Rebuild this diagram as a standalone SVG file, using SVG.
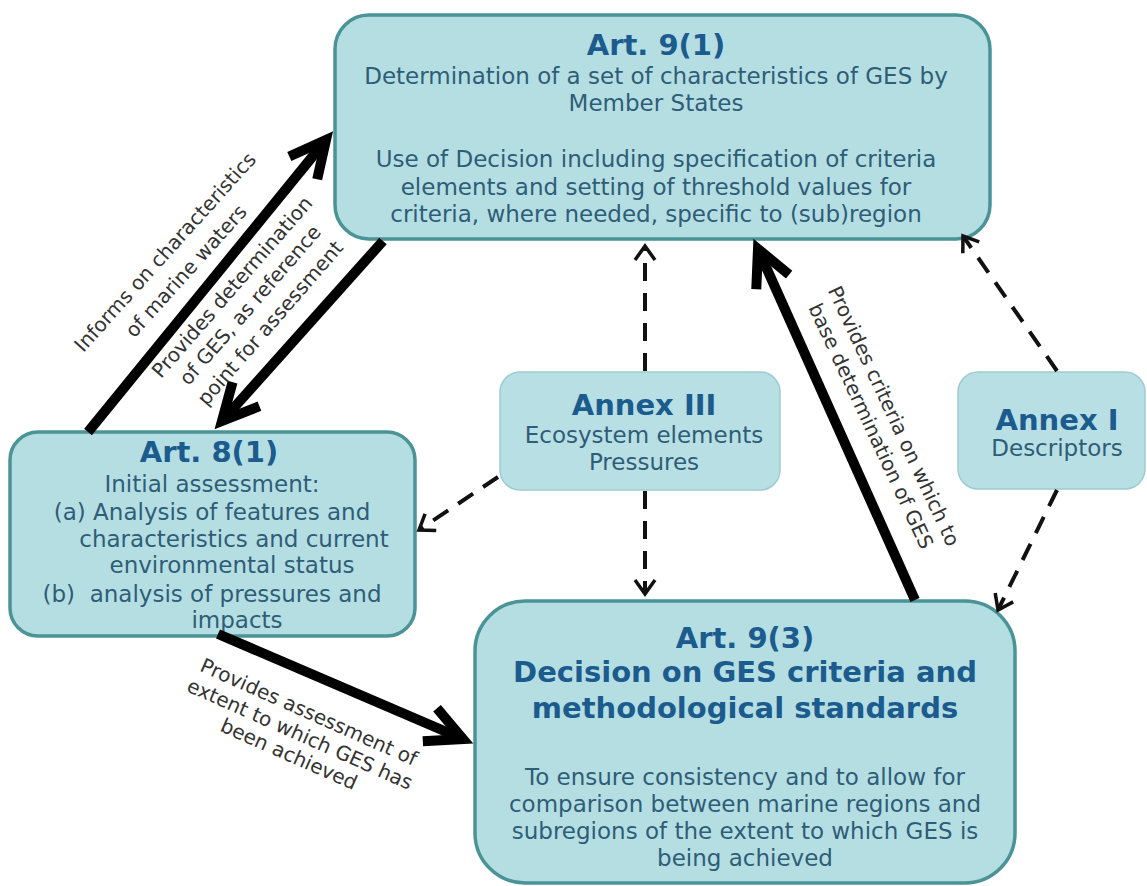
<svg xmlns="http://www.w3.org/2000/svg" width="1147" height="886" viewBox="0 0 1147 886">
<style>
.box{fill:#b5dee2;stroke:#4a9396;stroke-width:3.5}
.annex{fill:#b8dfe3;stroke:#9fcbd0;stroke-width:1.5}
.title{font-family:"DejaVu Sans",Verdana,sans-serif;font-weight:bold;fill:#1b5b8d;font-size:29px;text-anchor:middle}
.body{font-family:"DejaVu Sans",Verdana,sans-serif;font-size:23px;fill:#2e5d78;text-anchor:middle}
.solid{stroke:#000;stroke-width:10;fill:none;marker-end:url(#big)}
.dash{stroke:#111;stroke-width:4;stroke-dasharray:18 12;fill:none;marker-end:url(#small)}
.lbl{font-family:"DejaVu Sans",Verdana,sans-serif;font-size:20px;fill:#333;text-anchor:middle}
</style>
<defs>
<marker id="big" markerUnits="userSpaceOnUse" orient="auto" markerWidth="1" markerHeight="1" refX="0" refY="0" overflow="visible">
<path d="M-36,-18 L0,0 L-36,18" fill="none" stroke="#000" stroke-width="10" stroke-linejoin="miter"/>
</marker>
<marker id="small" markerUnits="userSpaceOnUse" orient="auto" markerWidth="1" markerHeight="1" refX="0" refY="0" overflow="visible">
<path d="M-14,-10 L0,0 L-14,10" fill="none" stroke="#111" stroke-width="3.5"/>
</marker>
</defs>
<rect width="1147" height="886" fill="#fff"/>

<g id="art9-1">
<rect class="box" x="335" y="15" width="655" height="224" rx="34"/>
<text class="title" x="656" y="55">Art. 9(1)</text>
<text class="body" x="656" y="84">Determination of a set of characteristics of GES by</text>
<text class="body" x="656" y="111">Member States</text>
<text class="body" x="656" y="167">Use of Decision including specification of criteria</text>
<text class="body" x="656" y="195">elements and setting of threshold values for</text>
<text class="body" x="656" y="222">criteria, where needed, specific to (sub)region</text>
</g>

<g id="art8-1">
<rect class="box" x="10" y="432" width="405" height="204" rx="28"/>
<text class="title" x="209" y="462">Art. 8(1)</text>
<text class="body" x="212" y="492">Initial assessment:</text>
<text class="body" x="212" y="520">(a) Analysis of features and</text>
<text class="body" x="234" y="547">characteristics and current</text>
<text class="body" x="232" y="573">environmental status</text>
<text class="body" x="212" y="602" xml:space="preserve">(b)  analysis of pressures and</text>
<text class="body" x="237" y="628">impacts</text>
</g>

<g id="annex-3">
<rect class="annex" x="500" y="372" width="280" height="118" rx="20"/>
<text class="title" x="644" y="415">Annex III</text>
<text class="body" x="644" y="443">Ecosystem elements</text>
<text class="body" x="644" y="470">Pressures</text>
</g>

<g id="annex-1">
<rect class="annex" x="958" y="372" width="187" height="117" rx="20"/>
<text class="title" x="1057" y="430">Annex I</text>
<text class="body" x="1057" y="456">Descriptors</text>
</g>

<g id="art9-3">
<rect class="box" x="475" y="601" width="540" height="282" rx="50"/>
<text class="title" x="745" y="648">Art. 9(3)</text>
<text class="title" x="745" y="682">Decision on GES criteria and</text>
<text class="title" x="745" y="718">methodological standards</text>
<text class="body" x="745" y="785">To ensure consistency and to allow for</text>
<text class="body" x="745" y="812">comparison between marine regions and</text>
<text class="body" x="745" y="839">subregions of the extent to which GES is</text>
<text class="body" x="745" y="866">being achieved</text>
</g>

<g id="connectors">
<path class="solid" d="M88,432 L326,140"/>
<path class="solid" d="M383,241 L222,421"/>
<path class="solid" d="M218,634 L463,739"/>
<path class="solid" d="M915,600 L758,249"/>
<path class="dash" d="M645,371 L645,246"/>
<path class="dash" d="M645,491 L645,594"/>
<path class="dash" d="M498,477 L419,530"/>
<path class="dash" d="M1057,371 L963,236"/>
<path class="dash" d="M1057,490 L998,610"/>
</g>

<g id="connector-labels">
<text class="lbl" transform="translate(165,252) rotate(-48)" y="7">Informs on characteristics</text>
<text class="lbl" transform="translate(186,271) rotate(-48)" y="7">of marine waters</text>
<text class="lbl" transform="translate(232,287) rotate(-49)" y="7">Provides determination</text>
<text class="lbl" transform="translate(250,305) rotate(-49)" y="7">of GES, as reference</text>
<text class="lbl" transform="translate(270,323) rotate(-49)" y="7">point for assessment</text>
<text class="lbl" transform="translate(894,416) rotate(65)" y="7">Provides criteria on which to</text>
<text class="lbl" transform="translate(871,426) rotate(65)" y="7">base determination of GES</text>
<text class="lbl" transform="translate(309,712) rotate(24)" y="7">Provides assessment of</text>
<text class="lbl" transform="translate(300,734) rotate(24)" y="7">extent to which GES has</text>
<text class="lbl" transform="translate(289,754) rotate(24)" y="7">been achieved</text>
</g>
</svg>
